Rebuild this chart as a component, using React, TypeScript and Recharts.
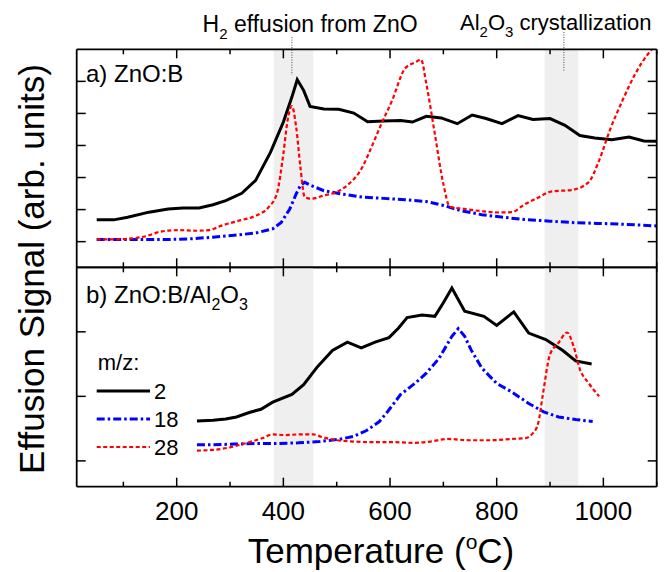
import React from 'react';
import {
  LineChart, Line, XAxis, YAxis, ReferenceArea, ReferenceLine, Legend,
} from 'recharts';

// panel a) ZnO:B
const topT2 = [50, 82, 108, 148, 184, 212, 242, 268, 292, 322, 348, 376, 400, 416, 426, 438, 450, 476, 504, 532, 558, 588, 620, 642, 668, 696, 726, 754, 780, 810, 840, 868, 900, 928, 956, 984, 1016, 1048, 1076, 1100];
const topMz2 = [1.68, 1.68, 1.76, 1.92, 2.02, 2.05, 2.05, 2.15, 2.28, 2.51, 2.91, 3.79, 4.73, 5.51, 6.05, 5.72, 5.22, 5.14, 5.13, 5.01, 4.74, 4.76, 4.78, 4.73, 4.91, 4.86, 4.68, 4.95, 4.84, 4.68, 4.93, 4.81, 4.84, 4.63, 4.31, 4.23, 4.18, 4.26, 4.14, 4.13];
const topT18 = [50, 108, 148, 188, 228, 268, 308, 348, 380, 396, 412, 424, 432, 440, 452, 476, 508, 548, 588, 628, 668, 700, 732, 772, 812, 852, 900, 948, 988, 1028, 1068, 1100];
const topMz18 = [1.07, 1.07, 1.07, 1.07, 1.09, 1.14, 1.2, 1.27, 1.4, 1.6, 2.02, 2.49, 2.75, 2.85, 2.75, 2.59, 2.49, 2.39, 2.35, 2.31, 2.25, 2.13, 1.97, 1.84, 1.76, 1.69, 1.64, 1.59, 1.57, 1.55, 1.52, 1.49];
const topT28 = [50, 80, 108, 140, 172, 204, 236, 260, 284, 316, 348, 372, 388, 400, 408, 416, 424, 432, 440, 452, 476, 500, 520, 548, 564, 584, 604, 628, 648, 658, 668, 684, 700, 712, 740, 772, 804, 828, 852, 876, 904, 940, 972, 992, 1012, 1036, 1060, 1084, 1100];
const topMz28 = [1.07, 1.07, 1.09, 1.16, 1.32, 1.36, 1.34, 1.36, 1.5, 1.65, 1.81, 2.07, 2.51, 3.74, 4.79, 5.23, 4.57, 3.32, 2.39, 2.34, 2.44, 2.55, 2.76, 3.32, 3.9, 4.68, 5.41, 6.4, 6.6, 6.68, 5.93, 4.36, 2.8, 2.09, 2.02, 1.95, 1.91, 1.92, 2.16, 2.36, 2.57, 2.61, 2.85, 3.53, 4.47, 5.41, 6.24, 6.86, 7.15];

// panel b) ZnO:B/Al2O3
const botT2 = [238, 268, 292, 312, 336, 358, 380, 416, 438, 464, 492, 520, 546, 572, 598, 616, 632, 660, 684, 700, 716, 740, 776, 800, 832, 860, 892, 924, 948, 978];
const botMz2 = [1.62, 1.63, 1.65, 1.68, 1.75, 1.8, 1.91, 2.03, 2.18, 2.46, 2.71, 2.84, 2.75, 2.84, 2.91, 3.06, 3.22, 3.26, 3.24, 3.45, 3.68, 3.32, 3.24, 3.1, 3.31, 2.98, 2.88, 2.71, 2.55, 2.5];
const botT18 = [238, 268, 308, 348, 388, 428, 468, 508, 532, 556, 580, 596, 620, 648, 668, 692, 716, 728, 740, 752, 772, 800, 828, 860, 888, 916, 948, 980];
const botMz18 = [1.25, 1.25, 1.26, 1.27, 1.27, 1.28, 1.3, 1.34, 1.38, 1.47, 1.61, 1.77, 2.03, 2.21, 2.36, 2.59, 2.93, 3.05, 2.93, 2.72, 2.44, 2.2, 2.07, 1.89, 1.76, 1.68, 1.64, 1.61];
const botT28 = [238, 268, 300, 332, 360, 380, 404, 428, 456, 472, 500, 532, 564, 604, 644, 676, 708, 748, 788, 828, 852, 868, 878, 886, 900, 916, 932, 944, 956, 972, 992];
const botMz28 = [1.16, 1.17, 1.21, 1.28, 1.35, 1.41, 1.4, 1.41, 1.41, 1.37, 1.32, 1.3, 1.29, 1.29, 1.28, 1.3, 1.34, 1.32, 1.32, 1.34, 1.35, 1.43, 1.59, 2.0, 2.65, 2.83, 2.99, 2.78, 2.42, 2.21, 2.0];

const xTicks = [100, 200, 300, 400, 500, 600, 700, 800, 900, 1000, 1100];
const topYTicks = [1, 2, 3, 4, 5, 6];
const botYTicks = [1, 2, 3];
const bandH2: [number, number] = [382, 456];
const bandAl: [number, number] = [890, 953];
const seriesOrder = ['2', '18', '28'];

const zip = (t: number[], v: number[]) => t.map((x, i) => ({ t: x, v: v[i] }));

const FONT = '"Liberation Sans", Arial, sans-serif';
const W = 668;
const H = 572;
const LEFT = 76.7;
const RIGHT = 656.7;
const TOP = 49.3;
const MID = 267.3;
const BOTTOM = 486.7;
const X_DOMAIN: [number, number] = [12.5, 1100];

const STYLE: Record<string, { color: string; width: number; dash?: string }> = {
  '2': { color: '#000000', width: 3 },
  '18': { color: '#0000ff', width: 3, dash: '8 3 2.5 3' },
  '28': { color: '#ff0000', width: 2.2, dash: '4 2.5' },
};

function xTick(dir: number, labels: boolean) {
  return (p: any) => {
    const v = p.payload.value;
    const major = v % 200 === 0;
    return (
      <g>
        <line x1={p.x} x2={p.x} y1={p.y} y2={p.y + dir * (major ? 9 : 5)} stroke="#000" strokeWidth={1.5} />
        {labels && major && v <= 1000 && (
          <text x={p.x} y={p.y + 33} textAnchor="middle" fontSize={26} fontFamily={FONT} fill="#000">{v}</text>
        )}
      </g>
    );
  };
}

function yTick(dir: number) {
  return (p: any) => (
    <line x1={p.x} x2={p.x + dir * 9} y1={p.y} y2={p.y} stroke="#000" strokeWidth={1.5} />
  );
}

function MzLegend(props: any) {
  const items = [...(props.payload || [])].sort(
    (a: any, b: any) => seriesOrder.indexOf(String(a.value)) - seriesOrder.indexOf(String(b.value)),
  );
  return (
    <svg width={110} height={120} style={{ display: 'block' }}>
      <text x={7.7} y={25} fontSize={22} fontFamily={FONT} fill="#000">m/z:</text>
      {items.map((it: any, i: number) => {
        const s = STYLE[String(it.value)];
        const y = 46 + i * 28;
        return (
          <g key={it.value}>
            <line x1={6.7} x2={60} y1={y} y2={y} stroke={it.color} strokeWidth={s.width} strokeDasharray={s.dash} />
            <text x={64} y={y + 8} fontSize={22} fontFamily={FONT} fill="#000">{it.value}</text>
          </g>
        );
      })}
    </svg>
  );
}

const axisLine = { stroke: '#000', strokeWidth: 1.8 };

function Panel(props: {
  top: number; bottom: number; yDomain: [number, number]; yTicks: number[];
  series: { name: string; data: { t: number; v: number }[]; curve: 'linear' | 'monotone' }[];
  showXLabels: boolean; children?: React.ReactNode;
}) {
  const { top, bottom, yDomain, yTicks, series, showXLabels, children } = props;
  // axes are 1px thick bands so the plot area lands exactly on the wanted box
  return (
    <div style={{ position: 'absolute', left: 0, top: 0 }}>
      <LineChart
        width={W}
        height={H}
        margin={{ top: top - 1, bottom: H - bottom - 1, left: LEFT - 1, right: W - RIGHT - 1 }}
      >
        <XAxis
          xAxisId="b" type="number" dataKey="t" domain={X_DOMAIN} allowDataOverflow
          ticks={xTicks} interval={0} height={1} tickSize={0} tickMargin={0}
          tickLine={false} axisLine={axisLine} tick={xTick(-1, showXLabels)}
        />
        <XAxis
          xAxisId="t" orientation="top" type="number" dataKey="t" domain={X_DOMAIN} allowDataOverflow
          ticks={xTicks} interval={0} height={1} tickSize={0} tickMargin={0}
          tickLine={false} axisLine={axisLine} tick={xTick(1, false)}
        />
        <YAxis
          yAxisId="l" type="number" domain={yDomain} allowDataOverflow ticks={yTicks} interval={0}
          width={1} tickSize={0} tickMargin={0} tickLine={false} axisLine={axisLine} tick={yTick(1)}
        />
        <YAxis
          yAxisId="r" orientation="right" type="number" domain={yDomain} allowDataOverflow ticks={yTicks} interval={0}
          width={1} tickSize={0} tickMargin={0} tickLine={false} axisLine={axisLine} tick={yTick(-1)}
        />
        <ReferenceArea xAxisId="b" yAxisId="l" x1={bandH2[0]} x2={bandH2[1]} fill="#efefef" fillOpacity={1} stroke="none" />
        <ReferenceArea xAxisId="b" yAxisId="l" x1={bandAl[0]} x2={bandAl[1]} fill="#efefef" fillOpacity={1} stroke="none" />
        {children}
        {series.map((s) => (
          <Line
            key={s.name}
            xAxisId="b"
            yAxisId="l"
            name={s.name}
            data={s.data}
            dataKey="v"
            type={s.curve}
            stroke={STYLE[s.name].color}
            strokeWidth={STYLE[s.name].width}
            strokeDasharray={STYLE[s.name].dash}
            dot={false}
            activeDot={false}
            isAnimationActive={false}
          />
        ))}
        {showXLabels && (
          <Legend
            layout="vertical"
            align="center"
            verticalAlign="middle"
            content={<MzLegend />}
            wrapperStyle={{ left: 90, top: 345, width: 110, height: 120 }}
          />
        )}
      </LineChart>
    </div>
  );
}

export default function App() {
  const topSeries = [
    { name: '2', data: zip(topT2, topMz2), curve: 'linear' as const },
    { name: '18', data: zip(topT18, topMz18), curve: 'linear' as const },
    { name: '28', data: zip(topT28, topMz28), curve: 'monotone' as const },
  ];
  const botSeries = [
    { name: '2', data: zip(botT2, botMz2), curve: 'linear' as const },
    { name: '18', data: zip(botT18, botMz18), curve: 'linear' as const },
    { name: '28', data: zip(botT28, botMz28), curve: 'monotone' as const },
  ];
  const txt = { fontFamily: FONT, fill: '#000' };
  return (
    <div style={{ position: 'absolute', left: 0, top: 0, width: W, height: H, background: '#fff', fontFamily: FONT }}>
      <Panel top={TOP} bottom={MID} yDomain={[0.2, 7]} yTicks={topYTicks} series={topSeries} showXLabels={false}>
        <ReferenceLine
          xAxisId="b" yAxisId="l" ifOverflow="visible"
          segment={[{ x: 416, y: 7.38 }, { x: 416, y: 6.2 }]}
          stroke="#444" strokeWidth={1} strokeDasharray="1 1.5"
        />
        <ReferenceLine
          xAxisId="b" yAxisId="l" ifOverflow="visible"
          segment={[{ x: 926, y: 7.54 }, { x: 926, y: 6.29 }]}
          stroke="#444" strokeWidth={1} strokeDasharray="1 1.5"
        />
      </Panel>
      <Panel top={MID} bottom={BOTTOM} yDomain={[0.6, 4]} yTicks={botYTicks} series={botSeries} showXLabels />
      <svg width={W} height={H} style={{ position: 'absolute', left: 0, top: 0, pointerEvents: 'none' }}>
        <text x={202.6} y={31.7} fontSize={23} {...txt}>
          H<tspan fontSize={15} dy={7}>2</tspan><tspan dy={-7}> effusion from ZnO</tspan>
        </text>
        <text x={460} y={30} fontSize={22} {...txt}>
          Al<tspan fontSize={15} dy={7}>2</tspan><tspan dy={-7}>O</tspan><tspan fontSize={15} dy={7}>3</tspan><tspan dy={-7}> crystallization</tspan>
        </text>
        <text x={86} y={81.7} fontSize={24} {...txt}>a) ZnO:B</text>
        <text x={86} y={303} fontSize={24} {...txt}>
          b) ZnO:B/Al<tspan fontSize={16} dy={7}>2</tspan><tspan dy={-7}>O</tspan><tspan fontSize={16} dy={7}>3</tspan>
        </text>
        <text x={381} y={563} fontSize={35} textAnchor="middle" {...txt}>
          Temperature (<tspan fontSize={21} dy={-14}>o</tspan><tspan dy={14}>C)</tspan>
        </text>
        <text transform="translate(44 269) rotate(-90)" fontSize={35} textAnchor="middle" {...txt}>
          Effusion Signal (arb. units)
        </text>
      </svg>
    </div>
  );
}
